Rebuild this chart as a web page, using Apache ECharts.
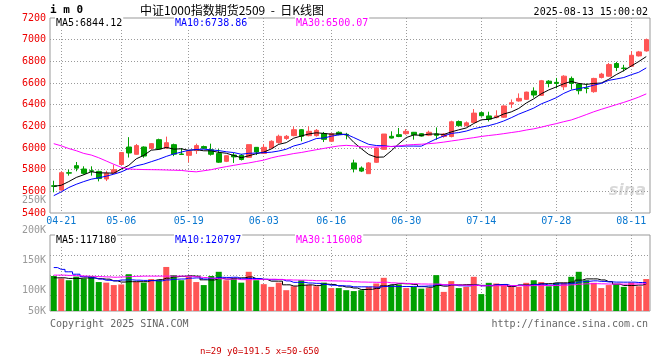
<!DOCTYPE html>
<html><head><meta charset="utf-8">
<script src="https://cdn.jsdelivr.net/npm/echarts@6/dist/echarts.min.js"></script>
<style>html,body{margin:0;padding:0;background:#fff}#c{width:660px;height:360px}#dbg{position:absolute;left:200px;top:346px;font:9px monospace;color:#c00}</style>
</head><body><div id="c"></div><div id="dbg"></div>
<script>
const dates = ['04-18','04-21','04-22','04-23','04-24','04-25','04-28','04-29','04-30',
'05-06','05-07','05-08','05-09','05-12','05-13','05-14','05-15','05-16','05-19','05-20','05-21','05-22','05-23','05-26','05-27','05-28','05-29','05-30',
'06-03','06-04','06-05','06-06','06-09','06-10','06-11','06-12','06-13','06-16','06-17','06-18','06-19','06-20','06-23','06-24','06-25','06-26','06-27','06-30',
'07-01','07-02','07-03','07-04','07-07','07-08','07-09','07-10','07-11','07-14','07-15','07-16','07-17','07-18','07-21','07-22','07-23','07-24','07-25','07-28','07-29','07-30','07-31',
'08-01','08-04','08-05','08-06','08-07','08-08','08-11','08-12','08-13'];
const labelDates = ['04-21','05-06','05-19','06-03','06-16','06-30','07-14','07-28','08-11'];
const priceTicks = [5600,5800,6000,6200,6400,6600,6800,7000];

const opens = [5652,5612,5772,5837,5806,5790,5784,5714,5769,5848,
6009,5942,6009,5997,6077,6000,6031,5945,5932,5976,
6013,5984,5950,5877,5935,5932,5914,6006,5950,6000,
6050,6088,6114,6169,6114,6114,6132,6062,6145,6126,
5862,5815,5763,5868,5988,6108,6123,6132,6145,6132,
6118,6130,6106,6106,6244,6206,6236,6326,6296,6281,
6284,6406,6434,6449,6526,6486,6617,6606,6565,6642,
6590,6553,6520,6651,6663,6780,6738,6755,6850,6896];
const highs = [5698,5785,5800,5871,5831,5831,5791,5790,5846,5962,
6100,6037,6015,6046,6086,6105,6040,6000,5972,6040,
6022,6040,5990,5932,5954,5945,6031,6009,6037,6071,
6123,6120,6200,6175,6200,6175,6148,6138,6154,6140,
5892,5830,5870,6006,6129,6154,6185,6175,6148,6138,
6160,6190,6138,6252,6254,6245,6360,6335,6335,6348,
6394,6448,6504,6520,6560,6628,6626,6647,6672,6660,
6596,6596,6648,6694,6785,6795,6768,6895,6896,7010];
const lows = [5591,5606,5745,5785,5754,5745,5692,5695,5762,5846,
5912,5938,5910,5985,5985,5991,5925,5935,5868,5945,
5990,5930,5862,5870,5862,5885,5914,5935,5945,5994,
6040,6075,6108,6062,6108,6105,6055,6055,6117,6080,
5775,5778,5763,5862,5985,6088,6100,6123,6077,6105,
6110,6076,6095,6098,6200,6198,6230,6290,6245,6274,
6278,6370,6428,6443,6465,6480,6560,6550,6535,6540,
6495,6505,6510,6642,6657,6710,6707,6750,6845,6890];
const closes = [5646,5772,5768,5814,5766,5786,5718,5766,5800,5958,
5954,6022,5926,6040,5991,6049,5943,5940,5969,6022,
5997,5942,5869,5929,5918,5894,6031,5963,6006,6062,
6108,6108,6169,6108,6154,6163,6080,6132,6125,6120,
5806,5787,5862,6000,6129,6092,6106,6154,6123,6110,
6145,6117,6128,6242,6206,6232,6322,6298,6266,6296,
6388,6418,6458,6516,6489,6621,6596,6596,6663,6596,
6529,6550,6642,6682,6770,6743,6734,6856,6887,7000];
const volumes = [130000,126000,123000,129000,126000,130000,120000,119000,115000,116000,
133000,120000,119000,125000,123000,145000,131500,123000,129000,120000,
115000,130000,137000,123000,126000,119000,137000,123000,116500,112000,
119000,106500,113000,123000,115000,113000,119000,110000,110000,106500,
105000,106500,112000,117600,127000,115000,116000,110000,112000,109000,
110000,131500,103700,121500,110000,112000,128700,100000,118700,117600,
115000,112000,112000,118700,123000,120000,113000,118700,118700,128700,
137000,123000,118700,110000,115000,116000,112000,119000,113000,125000];

// moving-average values before enough history exists
const ma5Head = [5646,5656,5690,5728];
const ma10Head = [5560,5595,5635,5665,5690,5712,5725,5740,5758];
const ma30Head = [6040,6020,5995,5975,5950,5935,5910,5880,5850,5822,5806,5803,5801,5800,5799,5797,5795,5793,5785,5780,5790,5800,5815,5828,5840,5852,5862,5875,5888];
const vMa5Head = [127000,127000,126000,126000];
const vMa10Head = [144000,141000,137000,133000,129000,127000,125000,123000,122000];
const vMa30Head = [131500,131500,131000,130500,130000,129500,129000,128500,128000,128500,129000,129500,129800,129800,129800,129800,129800,129800,129500,128500,127500,126500,125500,125000,124800,124000,124000,124300,124500];

const headerCode = 'i m 0';
const headerTitle = '中证1000指数期货2509  -  日K线图';
const headerTime = '2025-08-13 15:00:02';
const mainLegend = ['MA5:6844.12','MA10:6738.86','MA30:6500.07'];
const volLegend = ['MA5:117180','MA10:120797','MA30:116008'];
const footLeft = 'Copyright 2025 SINA.COM';
const footRight = 'http://finance.sina.com.cn';
const volTickLabels = {50000:'50K',100000:'100K',150000:'150K',200000:'200K',250000:'250K'};

const RED = '#ff5555', GREEN = '#00a000';
const MA_COLORS = ['#000000','#0000ff','#ff00ff'];
const MONO = '"DejaVu Sans Mono","Liberation Mono",monospace';
const VOL_MIN = 72000, VOL_MAX = 198000, VOL_LINES = 4, VOL_BOX = 76; // volume panel split into 20px bands from the top

function movingAvg(vals, n, head) {
  return vals.map((v, i) => {
    if (i < n - 1) return head[i];
    let s = 0;
    for (let k = i - n + 1; k <= i; k++) s += vals[k];
    return +(s / n).toFixed(2);
  });
}

const chart = echarts.init(document.getElementById('c'), null, { renderer: 'canvas' });

const candleData = dates.map((d, i) => [opens[i], closes[i], lows[i], highs[i]]);
const volData = volumes.map((v, i) => ({ value: v, itemStyle: { color: closes[i] >= opens[i] ? RED : GREEN } }));
const volGridValues = [];
for (let k = 1; k < VOL_LINES; k++) volGridValues.push(VOL_MAX - k * 20 / VOL_BOX * (VOL_MAX - VOL_MIN));

function maLine(name, data, color, xi, yi, step) {
  return { name, type: 'line', data, xAxisIndex: xi, yAxisIndex: yi, symbol: 'none', silent: true,
    step: step || false, lineStyle: { width: 1, color }, itemStyle: { color }, z: 5 };
}
function legendTexts(items, y) {
  const xs = [55, 174, 295];
  return items.map((t, k) => ({ type: 'text', x: xs[k], y, z: 110,
    style: { text: t, font: '10px ' + MONO, fill: MA_COLORS[k], verticalAlign: 'middle', align: 'left',
      backgroundColor: '#fff', padding: [1, 1] } }));
}

const textElements = [
  { type: 'text', x: 50, y: 10, z: 110, style: { text: headerCode, font: 'bold 11px ' + MONO, fill: '#000', verticalAlign: 'middle' } },
  { type: 'text', x: 140, y: 10, z: 110, style: { text: headerTitle, font: '12px "Noto Sans CJK SC"', fill: '#000', verticalAlign: 'middle' } },
  { type: 'text', x: 648, y: 12, z: 110, style: { text: headerTime, font: '10px ' + MONO, fill: '#000', align: 'right', verticalAlign: 'middle' } },
  ...legendTexts(mainLegend, 23),
  ...legendTexts(volLegend, 240),
  { type: 'text', x: 50, y: 324, z: 110, style: { text: footLeft, font: '10px ' + MONO, fill: '#666', verticalAlign: 'middle' } },
  { type: 'text', x: 648, y: 324, z: 110, style: { text: footRight, font: '10px ' + MONO, fill: '#666', align: 'right', verticalAlign: 'middle' } },
  { type: 'text', x: 646, y: 191, z: 1, style: { text: 'sina', font: 'italic bold 16px "DejaVu Sans"', fill: '#d8d8d8', align: 'right', verticalAlign: 'middle' } }
];

const option = {
  animation: false,
  backgroundColor: '#fff',
  grid: [
    { left: 50, right: 10, top: 18, bottom: 147, show: true, borderColor: '#999', borderWidth: 1, backgroundColor: 'transparent' },
    { left: 50, right: 10, top: 235, bottom: 49, show: true, borderColor: '#999', borderWidth: 1, backgroundColor: 'transparent' },
    { left: 50, right: 10, top: 200, height: 120, show: false }
  ],
  xAxis: [
    { type: 'category', data: dates, gridIndex: 0, boundaryGap: true,
      axisLine: { show: false }, axisTick: { show: false },
      axisLabel: { interval: (idx, val) => labelDates.indexOf(val) >= 0, color: '#0a78d0', fontFamily: MONO, fontSize: 10, margin: 3 },
      splitLine: { show: false } },
    { type: 'category', data: dates, gridIndex: 1, boundaryGap: true,
      axisLine: { show: false }, axisTick: { show: false }, axisLabel: { show: false }, splitLine: { show: false } },
    { type: 'value', gridIndex: 2, show: false, min: 0, max: 1 }
  ],
  yAxis: [
    { type: 'value', gridIndex: 0, min: 5400, max: 7200, interval: 200,
      axisLine: { show: false }, axisTick: { show: false },
      axisLabel: { color: '#ee0000', fontFamily: MONO, fontSize: 10, margin: 4, padding: [0, 0, 4, 0],
        formatter: v => String(v) },
      splitLine: { show: false } },
    { type: 'value', gridIndex: 1, min: VOL_MIN, max: VOL_MAX,
      axisLine: { show: false }, axisTick: { show: false }, axisLabel: { show: false }, splitLine: { show: false } },
    { type: 'value', gridIndex: 2, min: 50000, max: 250000, interval: 50000,
      axisLine: { show: false }, axisTick: { show: false }, splitLine: { show: false },
      axisLabel: { color: '#999', fontFamily: MONO, fontSize: 10, margin: 4,
        formatter: v => v === 50000 ? '{s|' + volTickLabels[v] + '}' : volTickLabels[v],
        rich: { s: { color: '#999', fontFamily: MONO, fontSize: 10, padding: [0, 0, 18, 0] } } } }
  ],
  series: [
    { name: 'K', type: 'candlestick', data: candleData, xAxisIndex: 0, yAxisIndex: 0, barWidth: 5, silent: true,
      itemStyle: { color: RED, color0: GREEN, borderColor: RED, borderColor0: GREEN, borderWidth: 1 }, z: 3 },
    maLine('MA5', movingAvg(closes, 5, ma5Head), MA_COLORS[0], 0, 0),
    maLine('MA10', movingAvg(closes, 10, ma10Head), MA_COLORS[1], 0, 0),
    maLine('MA30', movingAvg(closes, 30, ma30Head), MA_COLORS[2], 0, 0),
    { name: 'VOL', type: 'bar', data: volData, xAxisIndex: 1, yAxisIndex: 1, barWidth: 6, silent: true, z: 3 },
    maLine('VMA5', movingAvg(volumes, 5, vMa5Head), MA_COLORS[0], 1, 1, 'middle'),
    maLine('VMA10', movingAvg(volumes, 10, vMa10Head), MA_COLORS[1], 1, 1, 'middle'),
    maLine('VMA30', movingAvg(volumes, 30, vMa30Head), MA_COLORS[2], 1, 1, 'middle')
  ],
  graphic: textElements
};
chart.setOption(option);

// dotted grid lines placed through the chart's own scales (public convertToPixel only)
const dbg = document.getElementById('dbg');
const crisp = v => Math.round(v - 0.5) + 0.5;
const lineEls = [];
function dottedPath(x1, y1, x2, y2) {
  // build a dotted line as many short solid segments (1px on, 2px off)
  let d = '';
  if (y1 === y2) { for (let x = x1; x < x2; x += 3) d += 'M' + x + ' ' + y1 + 'L' + Math.min(x + 1, x2) + ' ' + y1; }
  else { for (let y = y1; y < y2; y += 3) d += 'M' + x1 + ' ' + y + 'L' + x1 + ' ' + Math.min(y + 1, y2); }
  return d;
}
function addGridLines(xi, yi, yMin, yMax, hValues) {
  const p0 = chart.convertToPixel({ xAxisIndex: xi }, dates[0]);
  const p1 = chart.convertToPixel({ xAxisIndex: xi }, dates[dates.length - 1]);
  const band = (p1 - p0) / (dates.length - 1);
  const left = Math.round(p0 - band / 2), right = Math.round(p1 + band / 2);
  const top = Math.round(chart.convertToPixel({ yAxisIndex: yi }, yMax));
  const bottom = Math.round(chart.convertToPixel({ yAxisIndex: yi }, yMin));
  hValues.forEach(v => {
    const y = crisp(chart.convertToPixel({ yAxisIndex: yi }, v));
    lineEls.push({ x1: left, y1: y, x2: right, y2: y });
  });
  labelDates.forEach(d => {
    const x = crisp(chart.convertToPixel({ xAxisIndex: xi }, d));
    lineEls.push({ x1: x, y1: top, x2: x, y2: bottom });
  });
}
try {
  addGridLines(0, 0, 5400, 7200, priceTicks);
  addGridLines(1, 1, VOL_MIN, VOL_MAX, volGridValues);
  const pathData = lineEls.map(l => dottedPath(l.x1, l.y1, l.x2, l.y2)).join('');
  const gridPaths = lineEls.map((l, k) => ({
    type: 'line', z: 2, silent: true,
    shape: { x1: l.x1, y1: l.y1, x2: l.x2, y2: l.y2 },
    style: { stroke: '#9a9a9a', lineWidth: 1, lineDash: [1, 2] }
  }));
  chart.setOption({ graphic: textElements.concat(gridPaths) });
  dbg.textContent = 'n=' + lineEls.length + ' y0=' + lineEls[0].y1 + ' x=' + lineEls[0].x1 + '-' + lineEls[0].x2;
} catch (e) { dbg.textContent = 'ERR ' + e.message; }
</script></body></html>
